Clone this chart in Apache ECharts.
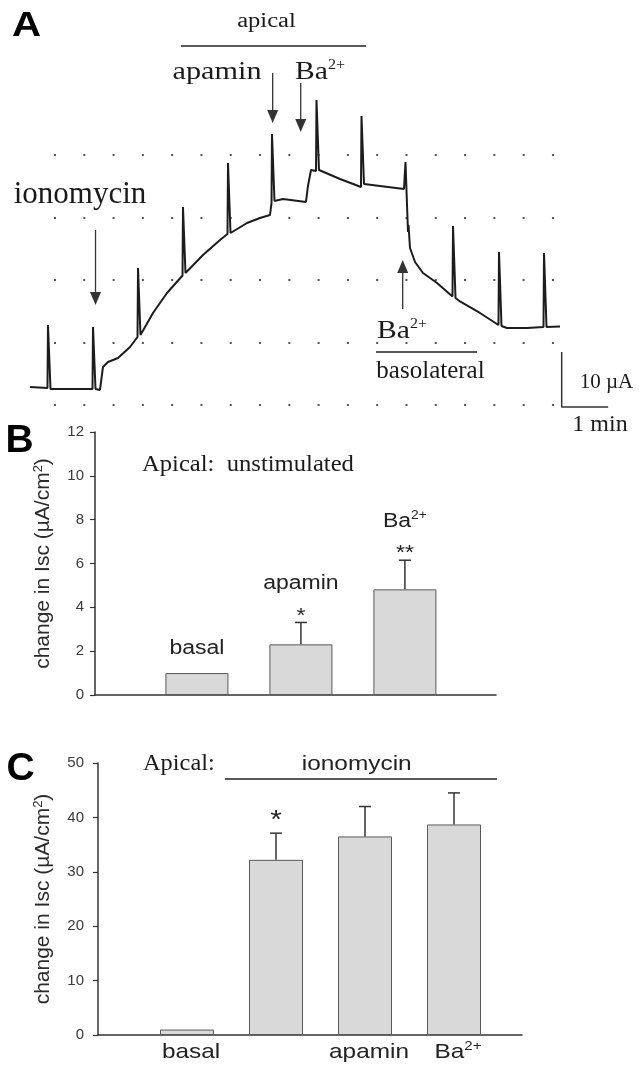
<!DOCTYPE html>
<html><head><meta charset="utf-8">
<script src="https://cdn.jsdelivr.net/npm/echarts/dist/echarts.min.js"></script>
<style>html,body{margin:0;padding:0;background:#fff}#c{width:644px;height:1065px}</style>
</head><body><div id="c"></div>
<script>
// ---------- Panel A : Isc trace (time in min, current in µA) ----------
const traceT = [0.000,0.376,0.387,0.430,0.441,0.860,1.344,1.355,1.398,1.409,1.505,1.570,1.677,1.892,2.151,2.312,2.323,2.366,2.376,2.645,2.946,3.280,3.290,3.333,3.344,3.720,4.086,4.247,4.258,4.301,4.312,4.667,4.946,5.161,5.194,5.204,5.247,5.258,5.441,5.935,5.978,6.043,6.151,6.161,6.204,6.215,6.667,7.118,7.129,7.172,7.183,7.527,8.043,8.075,8.118,8.129,8.140,8.172,8.280,8.452,8.753,9.086,9.097,9.140,9.151,9.247,9.677,10.075,10.086,10.129,10.140,10.258,10.688,11.043,11.054,11.097,11.108,11.398];
const traceI = [0.18,0.00,11.45,11.45,-0.18,-0.18,-0.18,11.09,11.09,-0.18,-0.36,3.82,4.73,5.45,7.45,9.27,21.82,21.82,9.64,13.64,17.27,20.45,32.91,32.91,20.91,24.18,26.91,28.00,40.91,40.91,28.18,30.00,30.91,31.45,33.64,46.18,46.18,34.00,34.36,33.82,36.73,39.64,39.45,52.36,52.36,39.64,38.00,36.55,49.45,49.45,37.09,36.73,36.18,41.09,41.09,28.36,29.64,25.45,22.91,20.91,19.09,16.64,29.45,29.45,16.36,15.73,13.64,11.45,24.73,24.73,11.27,10.91,10.91,11.09,24.55,24.55,11.09,11.18];
// arrows: time, start current, tip current
const arrowT    = [1.409, 5.219, 5.822, 8.015];
const arrowFrom = [28.73, 57.27, 55.45, 14.36];
const arrowTo   = [15.09, 48.18, 46.55, 23.27];
// horizontal bars: apical / basolateral  [t0, t1, level]
const bracketA = [[3.247, 7.226, 62.18], [7.441, 9.613, 6.545]];
// scale bar: 10 µA x 1 min
const scaleBarT = [11.434, 11.434, 12.434];
const scaleBarI = [6.55, -3.45, -3.45];

// ---------- Panel B : apical, unstimulated ----------
const bPos   = [1, 2, 3];
const bNames = ['basal', 'apamin', 'Ba{sup|2+}'];
const bMean  = [1.0, 2.31, 4.82];
const bSem   = [0, 1.0, 1.33];
const bStars = ['', '*', '**'];
const bTicks = [0, 12, 2];

// ---------- Panel C : apical, ionomycin ----------
const cPos   = [1, 2, 3, 4];
const cNames = ['basal', '', 'apamin', 'Ba{sup|2+}'];
const cMean  = [1.0, 32.2, 36.5, 38.7];
const cSem   = [0, 4.9, 5.5, 5.8];
const cStars = ['', '*', '', ''];
const cTicks = [0, 50, 10];
const bracketC = [[1.427, 4.483, 47.06]];

const SERIF = 'Liberation Serif', SANS = 'Liberation Sans';
const INK = '#1a1a1a', AX = '#333';

function T(text, x, y, size, o) {
  o = o || {};
  const fam = o.sans ? SANS : SERIF;
  const st = {text, fontSize: size, fontFamily: fam, fontWeight: o.bold ? 'bold' : 'normal',
    fill: o.fill || INK, align: o.align || 'center', verticalAlign: 'middle'};
  if (o.sup) st.rich = {sup: {fontSize: o.sup[0], fontFamily: fam, fill: o.fill || INK, padding: [0, 0, o.sup[1], 0]}};
  return {type: 'text', x, y, scaleX: o.sx || 1, silent: true, style: st};
}

const chart = echarts.init(document.getElementById('c'), null, {renderer: 'canvas'});

function barY(gi, ticks, margin, gap) {
  return {gridIndex: gi, type: 'value', min: ticks[0], max: ticks[1], interval: ticks[2],
    axisLine: {show: true, lineStyle: {color: AX, width: 1.5}},
    axisTick: {show: true, inside: false, length: 5, lineStyle: {color: AX, width: 1.2}},
    axisLabel: {fontSize: 15, color: '#3a3a3a', fontFamily: SANS, margin},
    splitLine: {show: false},
    name: 'change in Isc (µA/cm{sup|2})', nameLocation: 'middle', nameRotate: 90, nameGap: gap,
    nameTextStyle: {fontSize: 21, color: '#2a2a2a', fontFamily: SANS,
      rich: {sup: {fontSize: 13, fontFamily: SANS, color: '#2a2a2a', padding: [0, 0, 10, 0]}}}};
}
function barX(gi, min, max) {
  return {gridIndex: gi, type: 'value', min, max,
    axisLine: {show: true, onZero: true, lineStyle: {color: AX, width: 1.5}},
    axisTick: {show: false}, axisLabel: {show: false}, splitLine: {show: false}};
}

function errorSeries(xi, pos, mean, sem) {
  const data = [];
  pos.forEach((p, i) => { if (sem[i] > 0) data.push([p, mean[i], mean[i] + sem[i]]); });
  return {type: 'custom', xAxisIndex: xi, yAxisIndex: xi, data, z: 5,
    renderItem: (params, api) => {
      const a = api.coord([api.value(0), api.value(1)]);
      const b = api.coord([api.value(0), api.value(2)]);
      const s = {stroke: '#333', lineWidth: 1.5};
      return {type: 'group', children: [
        {type: 'line', shape: {x1: a[0], y1: a[1], x2: b[0], y2: b[1]}, style: s},
        {type: 'line', shape: {x1: b[0] - 6, y1: b[1], x2: b[0] + 6, y2: b[1]}, style: s}]};
    }};
}
function hlineSeries(xi, data) {
  return {type: 'custom', xAxisIndex: xi, yAxisIndex: xi, data, z: 5,
    renderItem: (params, api) => {
      const a = api.coord([api.value(0), api.value(2)]);
      const b = api.coord([api.value(1), api.value(2)]);
      return {type: 'line', shape: {x1: a[0], y1: a[1], x2: b[0], y2: b[1]}, style: {stroke: '#222', lineWidth: 1.5}};
    }};
}

const option = {
  animation: false,
  backgroundColor: '#fff',
  grid: [
    {left: 30, top: 36, width: 581.25, height: 379.5},
    {left: 54, top: 155, width: 501, height: 250},
    {left: 95, top: 432, width: 401, height: 263},
    {left: 98, top: 763, width: 424, height: 272}
  ],
  xAxis: [
    {gridIndex: 0, type: 'value', min: 0, max: 12.5, show: false},
    {gridIndex: 1, type: 'value', min: 0, max: 1, show: false},
    barX(2, 0.02, 3.876),
    barX(3, 0, 4.764)
  ],
  yAxis: [
    {gridIndex: 0, type: 'value', min: -5, max: 64, show: false},
    {gridIndex: 1, type: 'value', min: 0, max: 4, interval: 1,
      axisLine: {show: false}, axisTick: {show: false}, axisLabel: {show: false},
      splitLine: {show: true, lineStyle: {type: [2, 27.29], color: '#555', width: 2}}},
    barY(2, bTicks, 11, 40),
    barY(3, cTicks, 14, 43)
  ],
  series: [
    {type: 'line', xAxisIndex: 0, yAxisIndex: 0, data: traceT.map((t, i) => [t, traceI[i]]),
      showSymbol: false, symbol: 'none', clip: false, lineStyle: {color: '#1c1c1c', width: 2}, z: 4},
    {type: 'line', xAxisIndex: 0, yAxisIndex: 0, data: scaleBarT.map((t, i) => [t, scaleBarI[i]]),
      showSymbol: false, symbol: 'none', clip: false, lineStyle: {color: '#333', width: 1.5}},
    {type: 'custom', xAxisIndex: 0, yAxisIndex: 0, z: 5,
      data: arrowT.map((t, i) => [t, arrowFrom[i], arrowTo[i]]),
      renderItem: (params, api) => {
        const a = api.coord([api.value(0), api.value(1)]);
        const b = api.coord([api.value(0), api.value(2)]);
        const dir = b[1] > a[1] ? 1 : -1, L = 13, W = 5.5;
        return {type: 'group', children: [
          {type: 'line', shape: {x1: a[0], y1: a[1], x2: b[0], y2: b[1] - dir * (L - 1)}, style: {stroke: '#333', lineWidth: 1.3}},
          {type: 'polygon', shape: {points: [[b[0], b[1]], [b[0] - W, b[1] - dir * L], [b[0] + W, b[1] - dir * L]]}, style: {fill: '#333'}}]};
      }},
    hlineSeries(0, bracketA),

    {type: 'bar', xAxisIndex: 2, yAxisIndex: 2, data: bPos.map((p, i) => [p, bMean[i]]), barWidth: 63,
      itemStyle: {color: '#d9d9d9', borderColor: '#5a5a5a', borderWidth: 1}},
    errorSeries(2, bPos, bMean, bSem),
    {type: 'custom', xAxisIndex: 2, yAxisIndex: 2, z: 6,
      data: bPos.map((p, i) => [p, bMean[i] + bSem[i]]),
      renderItem: (params, api) => {
        const i = params.dataIndex;
        const p = api.coord([api.value(0), api.value(1)]);
        const star = bStars[i];
        const kids = [T(bNames[i], p[0], star ? p[1] - 39 : p[1] - 25, 20, {sans: true, sx: 1.15, fill: '#222', sup: [12, 11]})];
        if (star) kids.push(T(star, p[0], p[1] - 6.4, 20, {sans: true, sx: 1.15, fill: '#222'}));
        return {type: 'group', children: kids};
      }},

    {type: 'bar', xAxisIndex: 3, yAxisIndex: 3, data: cPos.map((p, i) => [p, cMean[i]]), barWidth: 54,
      itemStyle: {color: '#d9d9d9', borderColor: '#5a5a5a', borderWidth: 1}},
    errorSeries(3, cPos, cMean, cSem),
    hlineSeries(3, bracketC),
    {type: 'custom', xAxisIndex: 3, yAxisIndex: 3, z: 6,
      data: cPos.map((p, i) => [p, cMean[i] + cSem[i]]),
      renderItem: (params, api) => {
        const i = params.dataIndex;
        const p = api.coord([api.value(0), api.value(1)]);
        const b = api.coord([api.value(0), 0]);
        const kids = [];
        if (cNames[i]) kids.push(T(cNames[i], b[0] + 4, b[1] + 17.7, 21, {sans: true, sx: 1.16, fill: '#222', sup: [13, 13]}));
        if (cStars[i]) kids.push(T(cStars[i], p[0], p[1] - 12, 26, {sans: true, sx: 1.15, fill: '#222'}));
        return {type: 'group', children: kids};
      }}
  ],
  graphic: [
    T('A', 26.5, 26, 35, {sans: true, bold: true, sx: 1.15, fill: '#000'}),
    T('apical', 266.5, 22.2, 20, {sx: 1.23}),
    T('apamin', 217, 72.2, 25, {sx: 1.21}),
    T('Ba{sup|2+}', 295, 72.2, 26, {align: 'left', sx: 1.14, sup: [14, 13]}),
    T('ionomycin', 80, 194.5, 31),
    T('Ba{sup|2+}', 377, 331.2, 26, {align: 'left', sx: 1.14, sup: [14, 13]}),
    T('basolateral', 430.5, 371.5, 25),
    T('10 µA', 606.5, 382.9, 21),
    T('1 min', 600, 424.8, 24),
    T('B', 19.5, 441.7, 39, {sans: true, bold: true, fill: '#000'}),
    T('Apical:  unstimulated', 142, 465.2, 23, {align: 'left', sx: 1.07}),
    T('C', 20.5, 769.7, 39, {sans: true, bold: true, fill: '#000'}),
    T('Apical:', 143, 764.2, 23, {align: 'left', sx: 1.06}),
    T('ionomycin', 356.7, 764, 20, {sans: true, sx: 1.22, fill: '#222'})
  ]
};
chart.setOption(option);
</script></body></html>
